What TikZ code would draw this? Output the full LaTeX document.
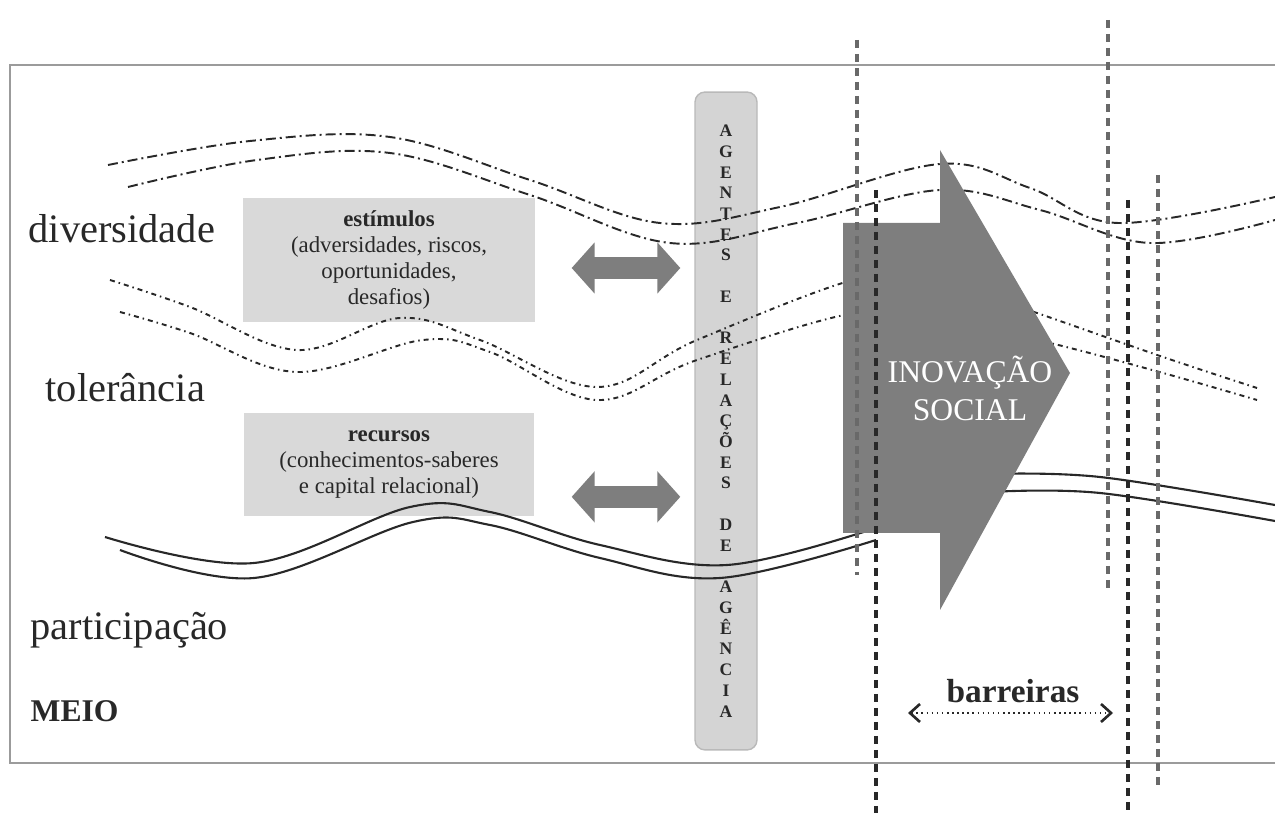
\documentclass[tikz,border=0pt]{standalone}
\usepackage{fontspec}
\setmainfont{Liberation Serif}
\definecolor{boxgray}{RGB}{217,217,217}
\definecolor{agentgray}{RGB}{212,212,212}
\definecolor{agentline}{RGB}{185,185,185}
\definecolor{darkArrow}{RGB}{126,126,126}
\definecolor{frameGray}{RGB}{155,155,155}
\definecolor{lineDark}{RGB}{40,40,40}
\definecolor{dashGray}{RGB}{105,105,105}
\usetikzlibrary{arrows.meta,positioning}

\begin{document}
\begin{tikzpicture}[x=0.02cm, y=-0.02cm, thick,
    infobox/.style={rectangle, fill=boxgray, text=lineDark, align=center, inner sep=0pt, font=\fontsize{13}{14.8}\selectfont},
    meiolabel/.style={anchor=base west, inner sep=0pt, text=lineDark, font=\fontsize{23}{27}\selectfont},
    band/.style={lineDark, line width=1.1pt, dash pattern=on 0.2cm off 0.08cm on 0.04cm off 0.08cm},
    tolband/.style={lineDark, line width=1.1pt, dash pattern=on 0.1cm off 0.08cm on 0.03cm off 0.08cm},
    partline/.style={lineDark, line width=1.2pt},
    twoway/.style={darkArrow, line width=0.44cm, {Triangle[width=1cm, length=0.46cm]}-{Triangle[width=1cm, length=0.46cm]}},
    barrier/.style={line width=1.8pt, dash pattern=on 0.16cm off 0.12cm}]
    \useasboundingbox (0,0) rectangle (1275,813);

    % meio
    \draw[frameGray, line width=1.5pt] (1275,65) -- (10,65) -- (10,763) -- (1275,763);
    \node[meiolabel] (div) at (28,243) {diversidade};
    \node[meiolabel] (tol) at (45,402) {tolerância};
    \node[meiolabel] (part) at (30,640) {participação};
    \node[meiolabel, font=\fontsize{18}{21}\selectfont\bfseries] (meio) at (30,722) {MEIO};

    \node[infobox, minimum width=5.84cm, minimum height=2.48cm] (est) at (389,260) {\textbf{estímulos}\\(adversidades, riscos,\\oportunidades,\\desafios)};
    \node[infobox, minimum width=5.8cm, minimum height=2.06cm, below=1.8cm of est] (rec) {\textbf{recursos}\\(conhecimentos-saberes\\e capital relacional)};

    \node[rectangle, rounded corners=0.2cm, fill=agentgray, draw=agentline, line width=0.8pt, minimum width=1.24cm, minimum height=13.16cm, align=center, text=lineDark, font=\fontsize{10}{11.8}\selectfont\bfseries] (agentes) at (726,421) {A\\G\\E\\N\\T\\E\\S\\[11.8pt]E\\[11.8pt]R\\E\\L\\A\\Ç\\Õ\\E\\S\\[11.8pt]D\\E\\[11.8pt]A\\G\\Ê\\N\\C\\I\\A};

    % ondas
    \draw[band] plot[smooth, tension=0.6] coordinates {(108,165) (250,141) (390,137) (530,180) (660,223) (780,207) (940,164) (1030,188) (1118,223) (1275,197)};
    \draw[band] plot[smooth, tension=0.6] coordinates {(128,187) (257,160) (390,153) (530,195) (670,243) (797,223) (940,190) (1040,210) (1150,243) (1275,220)};
    \draw[tolband] plot[smooth, tension=0.6] coordinates {(110,280) (190,307) (297,350) (400,318) (480,340) (597,387) (697,340) (860,278) (940,280) (1037,313) (1163,357) (1257,388)};
    \draw[tolband] plot[smooth, tension=0.6] coordinates {(120,312) (190,333) (297,372) (423,340) (490,352) (597,400) (697,360) (860,312) (950,322) (1050,343) (1163,373) (1257,400)};
    \draw[partline] plot[smooth, tension=0.6] coordinates {(105,537) (254,563) (410,507) (490,512) (600,545) (727,565) (876,528)};
    \draw[partline] plot[smooth, tension=0.6] coordinates {(120,550) (254,578) (413,522) (490,525) (600,558) (720,578) (876,540)};
    \draw[partline] plot[smooth, tension=0.6] coordinates {(990,474) (1100,477) (1275,505)};
    \draw[partline] plot[smooth, tension=0.6] coordinates {(990,492) (1100,493) (1275,521)};

    \coordinate (estR) at ([yshift=-0.16cm]est.east);
    \coordinate (recR) at ([yshift=-0.64cm]rec.east);
    \draw[twoway, shorten <=0.72cm, shorten >=0.28cm] (estR) -- (estR -| agentes.west);
    \draw[twoway, shorten <=0.74cm, shorten >=0.28cm] (recR) -- (recR -| agentes.west);

    % inovacao
    \fill[darkArrow] (843,223) -- (940,223) -- (940,150) -- (1070,373) -- (940,610) -- (940,533) -- (843,533) -- cycle;
    \node[align=center, text=white, font=\fontsize{18}{21.6}\selectfont] (inov) at (970,388) {INOVAÇÃO\\SOCIAL};

    \draw[barrier, dashGray] (857,40) -- (857,575);
    \draw[barrier, lineDark] (876,190) -- (876,813);
    \draw[barrier, dashGray] (1108,20) -- (1108,590);
    \draw[barrier, lineDark] (1128,200) -- (1128,813);
    \draw[barrier, dashGray] (1158,175) -- (1158,790);

    \node[anchor=base, text=lineDark, font=\fontsize{19}{22}\selectfont\bfseries] (barr) at (1013,703) {barreiras};
    \coordinate (bl) at (908,713);
    \coordinate (br) at (1113,713);
    \draw[lineDark, line width=0.9pt, dotted, {Straight Barb[length=0.2cm, width=0.36cm, line width=1.5pt]}-{Straight Barb[length=0.2cm, width=0.36cm, line width=1.5pt]}] (bl) -- (br);
\end{tikzpicture}
\end{document}
